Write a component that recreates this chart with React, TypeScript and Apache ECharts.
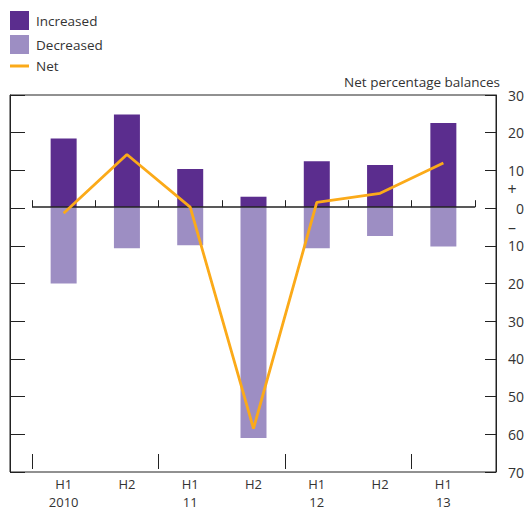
import React, { useEffect, useRef } from "react";
import * as echarts from "echarts";

const categories = ["H1\n2010", "H2", "H1\n11", "H2", "H1\n12", "H2", "H1\n13"];
const increased = [18.4, 24.8, 10.2, 2.8, 12.3, 11.3, 22.5];
const decreased = [-20.4, -11.0, -10.2, -61.7, -11.0, -7.7, -10.5];
const net = [-1.6, 14.1, 0.0, -59.2, 1.3, 3.7, 11.8];
const yTicks = [30, 20, 10, 0, -10, -20, -30, -40, -50, -60, -70];
const tickBoundaries = ["", "", "", "", "", "", "", ""];

const FONT = "'Open Sans', 'Noto Sans', sans-serif";
const TEXT = "#333333";
const LINE = "#222222";
const C_INC = "#5B2D8E";
const C_DEC = "#9D8EC3";
const C_NET = "#FBAA19";

export default function App() {
  const ref = useRef<HTMLDivElement>(null);
  useEffect(() => {
    if (!ref.current) return;
    const chart = echarts.init(ref.current, undefined, { renderer: "svg" });
    const yMin = yTicks[yTicks.length - 1];
    const yMax = yTicks[0];
    chart.setOption({
      animation: false,
      textStyle: { fontFamily: FONT, color: TEXT },
      legend: {
        orient: "vertical",
        left: 5,
        top: 6,
        itemWidth: 19,
        itemHeight: 19,
        itemGap: 5,
        symbolKeepAspect: true,
        textStyle: { fontFamily: FONT, fontSize: 13.5, color: TEXT, padding: [0, 0, 0, 2] },
        data: [
          { name: "Increased", icon: "rect" },
          { name: "Decreased", icon: "rect" },
          { name: "Net", icon: "path://M0,0 L38,0 L38,6 L0,6 Z", itemStyle: { color: C_NET } },
        ],
      },
      title: {
        text: "Net percentage balances",
        right: 22,
        top: 70,
        textStyle: { fontFamily: FONT, fontSize: 13.5, fontWeight: "normal", color: TEXT },
      },
      grid: [
        { left: 10, right: 30, top: 95, bottom: 39, show: true, borderColor: LINE, borderWidth: 1, backgroundColor: "transparent" },
        { left: 32, right: 52, top: 95, bottom: 39 },
      ],
      xAxis: [
        { type: "value", gridIndex: 0, min: 0, max: 1, show: false },
        {
          type: "category",
          gridIndex: 1,
          data: categories,
          position: "bottom",
          boundaryGap: true,
          axisLine: { show: false },
          axisTick: { show: true, inside: true, length: 7, lineStyle: { color: LINE } },
          axisLabel: { fontFamily: FONT, fontSize: 13, color: TEXT, margin: 6, lineHeight: 18 },
        },
        {
          type: "category",
          gridIndex: 1,
          data: tickBoundaries,
          position: "bottom",
          boundaryGap: false,
          axisLine: { show: false },
          axisLabel: { show: false },
          axisTick: {
            show: true,
            inside: true,
            length: 15,
            interval: (i: number) => i % 2 === 0 && i < 7,
            lineStyle: { color: LINE },
          },
        },
      ],
      yAxis: [
        {
          type: "value",
          gridIndex: 0,
          position: "left",
          min: yMin,
          max: yMax,
          interval: 10,
          axisLine: { show: true, lineStyle: { color: LINE } },
          axisTick: { show: true, inside: true, length: 15, lineStyle: { color: LINE } },
          axisLabel: { show: false },
          splitLine: { show: false },
        },
        {
          type: "value",
          gridIndex: 0,
          position: "right",
          min: yMin,
          max: yMax,
          interval: 10,
          axisLine: { show: true, lineStyle: { color: LINE } },
          axisTick: { show: true, inside: true, length: 11, lineStyle: { color: LINE } },
          axisLabel: {
            show: true,
            align: "right",
            margin: 28,
            fontFamily: FONT,
            fontSize: 14,
            color: TEXT,
            formatter: (v: number) => String(Math.abs(v)),
          },
          splitLine: { show: false },
        },
        {
          type: "value",
          gridIndex: 0,
          position: "right",
          min: yMin,
          max: yMax,
          interval: 5,
          axisLine: { show: false },
          axisTick: { show: false },
          axisLabel: {
            show: true,
            align: "center",
            margin: 16,
            fontFamily: FONT,
            fontSize: 16,
            color: TEXT,
            formatter: (v: number) => (v === 5 ? "+" : v === -5 ? "\u2013" : ""),
          },
          splitLine: { show: false },
        },
        {
          type: "value",
          gridIndex: 1,
          min: yMin,
          max: yMax,
          interval: 10,
          show: false,
        },
      ],
      series: [
        {
          name: "Increased",
          type: "bar",
          xAxisIndex: 1,
          yAxisIndex: 3,
          stack: "bal",
          barWidth: 26,
          data: increased,
          itemStyle: { color: C_INC },
          z: 2,
        },
        {
          name: "Decreased",
          type: "bar",
          xAxisIndex: 1,
          yAxisIndex: 3,
          stack: "bal",
          barWidth: 26,
          data: decreased,
          itemStyle: { color: C_DEC },
          z: 2,
          markLine: {
            silent: true,
            symbol: "none",
            label: { show: false },
            lineStyle: { color: LINE, type: "solid", width: 1.5 },
            data: [{ yAxis: 0 }],
            z: 3,
          },
        },
        {
          name: "Net",
          type: "line",
          xAxisIndex: 1,
          yAxisIndex: 3,
          data: net,
          symbol: "none",
          lineStyle: { color: C_NET, width: 2.8 },
          itemStyle: { color: C_NET },
          z: 5,
        },
      ],
    });
    return () => chart.dispose();
  }, []);
  return <div ref={ref} style={{ width: 527, height: 511, position: "absolute", left: 0, top: 0 }} />;
}
